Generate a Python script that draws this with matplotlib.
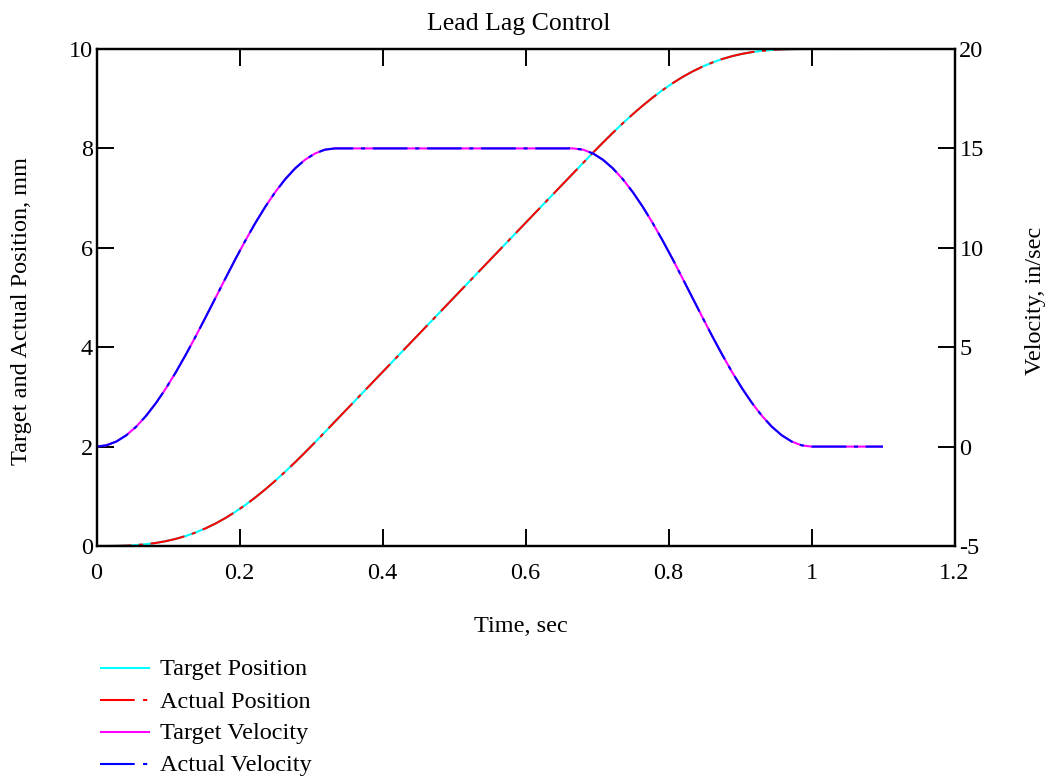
import matplotlib
matplotlib.use("Agg")
import matplotlib.pyplot as plt
from matplotlib.lines import Line2D

plt.rcParams['font.family'] = ['Liberation Serif', 'DejaVu Serif']
plt.rcParams['lines.scale_dashes'] = False

# ---- data ----
time_s = [0.0, 0.0139, 0.0278, 0.0417, 0.0556, 0.0694, 0.0833, 0.0972, 0.1111, 0.125,
          0.1389, 0.1528, 0.1667, 0.1806, 0.1944, 0.2083, 0.2222, 0.2361, 0.25, 0.2639,
          0.2778, 0.2917, 0.3056, 0.3194, 0.3333,
          0.4167, 0.5, 0.5833,
          0.6667, 0.6806, 0.6944, 0.7083, 0.7222, 0.7361, 0.75, 0.7639, 0.7778, 0.7917,
          0.8056, 0.8194, 0.8333, 0.8472, 0.8611, 0.875, 0.8889, 0.9028, 0.9167, 0.9306,
          0.9444, 0.9583, 0.9722, 0.9861, 1.0,
          1.05, 1.1]

target_position = [0.0, 0.0003, 0.0024, 0.008, 0.0188, 0.0364, 0.0623, 0.0978, 0.1442, 0.2023,
                   0.273, 0.3569, 0.4542, 0.5652, 0.6897, 0.8273, 0.9775, 1.1395, 1.3123, 1.4947,
                   1.6855, 1.883, 2.0857, 2.292, 2.5,
                   3.75, 5.0, 6.25,
                   7.5, 7.708, 7.9143, 8.117, 8.3145, 8.5053, 8.6877, 8.8605, 9.0225, 9.1727,
                   9.3103, 9.4348, 9.5458, 9.6431, 9.727, 9.7977, 9.8558, 9.9022, 9.9377, 9.9636,
                   9.9812, 9.992, 9.9976, 9.9997, 10.0,
                   10.0, 10.0]
actual_position = list(target_position)

target_velocity = [0.0, 0.0642, 0.2555, 0.5709, 1.0048, 1.5499, 2.1967, 2.9343, 3.75, 4.6299,
                   5.5589, 6.521, 7.5, 8.479, 9.4412, 10.3701, 11.25, 12.0657, 12.8033, 13.4501,
                   13.9952, 14.4291, 14.7445, 14.9358, 15.0,
                   15.0, 15.0, 15.0,
                   15.0, 14.9358, 14.7445, 14.4291, 13.9952, 13.4501, 12.8033, 12.0657, 11.25, 10.3701,
                   9.4412, 8.479, 7.5, 6.521, 5.5589, 4.6299, 3.75, 2.9343, 2.1967, 1.5499,
                   1.0048, 0.5709, 0.2555, 0.0642, 0.0,
                   0.0, 0.0]
actual_velocity = list(target_velocity)

x_ticks = [0, 0.2, 0.4, 0.6, 0.8, 1.0, 1.2]
x_tick_labels = ['0', '0.2', '0.4', '0.6', '0.8', '1', '1.2']
pos_ticks = [0, 2, 4, 6, 8, 10]
vel_ticks = [-5, 0, 5, 10, 15, 20]
legend_labels = ['Target Position', 'Actual Position', 'Target Velocity', 'Actual Velocity']

# ---- figure ----
W, H = 1049, 778
fig = plt.figure(figsize=(W / 100, H / 100), dpi=100)
L, R, T, B = 96.5, 954.5, 49, 546
ax = fig.add_axes([L / W, 1 - B / H, (R - L) / W, (B - T) / H])
ax2 = ax.twinx()

FS = 17.5
lw = 1.5
long_dash = (0, (25, 5.5, 3, 5.5))

ax.plot(time_s, target_position, color='#00FFFF', lw=lw, solid_capstyle='butt')
ax.plot(time_s, actual_position, color='#FF0000', lw=lw, linestyle=long_dash, dash_capstyle='butt')
ax2.plot(time_s, target_velocity, color='#FF00FF', lw=lw, solid_capstyle='butt')
ax2.plot(time_s, actual_velocity, color='#0000FF', lw=lw, linestyle=long_dash, dash_capstyle='butt')

ax.set_xlim(0, 1.2)
ax.set_ylim(0, 10)
ax2.set_ylim(-5, 20)

ax.set_xticks(x_ticks)
ax.set_xticklabels(x_tick_labels)
ax.set_yticks(pos_ticks)
ax.set_yticklabels([str(v) for v in pos_ticks])
ax2.set_yticks(vel_ticks)
ax2.set_yticklabels([str(v) for v in vel_ticks])

for a in (ax, ax2):
    for s in a.spines.values():
        s.set_linewidth(1.6)
        s.set_color('black')

ax.tick_params(axis='x', which='both', direction='in', length=12, width=1.4,
               top=True, bottom=True, labelsize=FS, pad=12)
ax.tick_params(axis='y', which='both', direction='in', length=12, width=1.4,
               left=True, right=False, labelsize=FS, pad=2.5)
ax2.tick_params(axis='y', which='both', direction='in', length=12, width=1.4,
                right=True, left=False, labelsize=FS, pad=3.5)

# titles / labels
fig.text(519 / W, 1 - 24 / H, 'Lead Lag Control', ha='center', va='center', fontsize=18.5)
fig.text(521 / W, 1 - 626 / H, 'Time, sec', ha='center', va='center', fontsize=FS)
fig.text(22 / W, 1 - 311 / H, 'Target and Actual Position, mm', ha='center', va='center',
         rotation=90, fontsize=FS)
fig.text(1036 / W, 1 - 301 / H, 'Velocity, in/sec', ha='center', va='center',
         rotation=90, fontsize=FS)

# legend (manual, Mathcad style)
leg_colors = ['#00FFFF', '#FF0000', '#FF00FF', '#0000FF']
leg_styles = ['-', (0, (25, 6, 3, 20)), '-', (0, (25, 6, 3, 20))]
rows = [668, 700, 732, 764]
for lab, c, st, y in zip(legend_labels, leg_colors, leg_styles, rows):
    yy = 1 - y / H
    fig.add_artist(Line2D([100 / W, 150 / W], [yy, yy], color=c, lw=lw,
                          linestyle=st, dash_capstyle='butt', solid_capstyle='butt'))
    fig.text(160 / W, 1 - (y + 2) / H, lab, ha='left', va='center', fontsize=FS)

fig.savefig('out.png', dpi=100)
